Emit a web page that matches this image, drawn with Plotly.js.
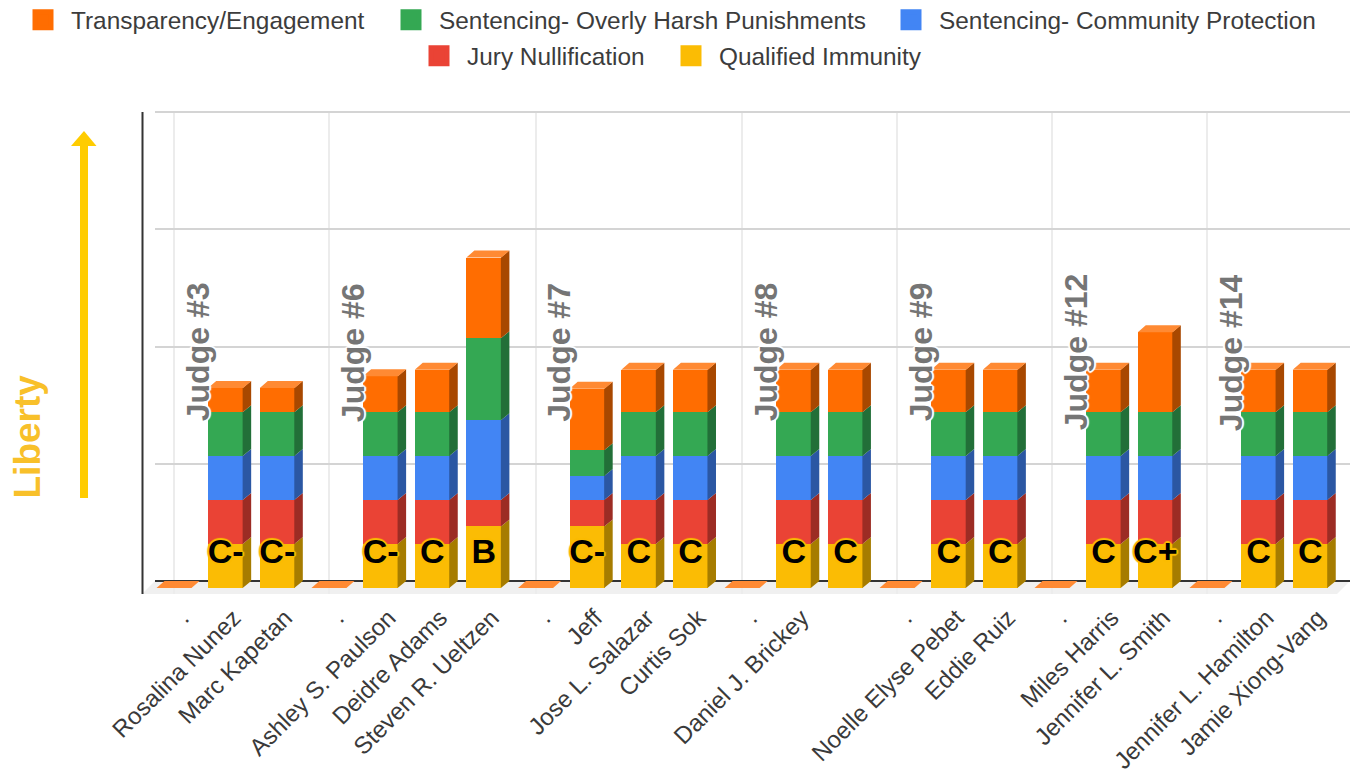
<!DOCTYPE html>
<html>
<head>
<meta charset="utf-8">
<script src="https://cdn.plot.ly/plotly-3.0.1.min.js"></script>
<style>html,body{margin:0;padding:0;background:#fff}#chart{width:1350px;height:774px}</style>
</head>
<body>
<div id="chart"></div>
<script>
const categories = [".","Rosalina Nunez","Marc Kapetan",".","Ashley S. Paulson","Deidre Adams","Steven R. Ueltzen",".","Jeff","Jose L. Salazar","Curtis Sok",".","Daniel J. Brickey"," ",".","Noelle Elyse Pebet","Eddie Ruiz",".","Miles Harris","Jennifer L. Smith",".","Jennifer L. Hamilton","Jamie Xiong-Vang"];
const qualifiedImmunity = [0,3,3,0,3,3,4.2,0,4.2,3,3,0,3,3,0,3,3,0,3,3,0,3,3];
const juryNullification = [0,3,3,0,3,3,1.8,0,1.8,3,3,0,3,3,0,3,3,0,3,3,0,3,3];
const communityProtection = [0,3,3,0,3,3,5.45,0,1.65,3,3,0,3,3,0,3,3,0,3,3,0,3,3];
const overlyHarsh = [0,3,3,0,3,3,5.6,0,1.75,3,3,0,3,3,0,3,3,0,3,3,0,3,3];
const transparency = [0,1.65,1.65,0,2.45,2.9,5.5,0,4.2,2.9,2.9,0,2.9,2.9,0,2.9,2.9,0,2.9,5.45,0,2.9,2.9];
const grades = ["","C-","C-","","C-","C","B","","C-","C","C","","C","C","","C","C","","C","C+","","C","C"];
const judgeLabels = ["Judge #3","Judge #6","Judge #7","Judge #8","Judge #9","Judge #12","Judge #14"];
const judgeSeparators = [0,3,7,11,14,17,20];
const seriesNames = ["Qualified Immunity","Jury Nullification","Sentencing- Community Protection","Sentencing- Overly Harsh Punishments","Transparency/Engagement"];
const seriesValues = [qualifiedImmunity,juryNullification,communityProtection,overlyHarsh,transparency];
const seriesColors = ["#fbbc04","#ea4335","#4285f4","#34a853","#ff6d01"];
const sideColors = ["#a67c00","#9c2c24","#2b57a3","#226f38","#a84800"];
const topColor = "#ff8a33";

const FONT = "Liberation Sans, Arial, sans-serif";
const barWidth = 0.678, depthX = 0.155, depthY = 0.477, seam = 0.01;
const xs = categories.map((_, i) => i);
const L = 155, T = 111, W = 1195, H = 483;
const px = v => (v - L) / W, py = v => (T + H - v) / H;

const traces = [];
seriesValues.forEach((vals, s) => traces.push({
  type: "bar", x: xs, y: vals, width: barWidth, name: seriesNames[s],
  marker: {color: seriesColors[s], line: {width: 0}}, showlegend: false, hoverinfo: "x+y+name"
}));

const base = xs.map(() => 0);
seriesValues.forEach((vals, s) => {
  const X = [], Y = [];
  xs.forEach(i => {
    if (vals[i] <= 0) return;
    const r = i + barWidth / 2, b = base[i], t = b + vals[i];
    X.push(r - seam, r + depthX, r + depthX, r - seam, null);
    Y.push(b, b + depthY, t + depthY, t, null);
    base[i] = t;
  });
  traces.push({type: "scatter", mode: "none", fill: "toself", fillcolor: sideColors[s], x: X, y: Y, showlegend: false, hoverinfo: "skip"});
});
const topX = [], topY = [];
xs.forEach(i => {
  const l = i - barWidth / 2, r = i + barWidth / 2, t = base[i];
  topX.push(l, r, r + depthX, l + depthX, null);
  topY.push(t, t, t + depthY, t + depthY, null);
});
traces.push({type: "scatter", mode: "none", fill: "toself", fillcolor: topColor, x: topX, y: topY, showlegend: false, hoverinfo: "skip"});

const halo = c => [[1,0],[-1,0],[0,1],[0,-1],[1,1],[-1,1],[1,-1],[-1,-1],[2,0],[-2,0],[0,2],[0,-2]].map(o => `${o[0]}px ${o[1]}px 1px ${c}`).join(",");

traces.push({
  type: "scatter", mode: "text", x: xs, y: xs.map(() => 2.3), text: grades, textposition: "middle center",
  textfont: {family: FONT, size: 34, weight: 700, color: "#000000", shadow: halo("#fbbc04")},
  showlegend: false, hoverinfo: "skip"
});
traces.push({type: "scatter", mode: "markers", x: [null], y: [null], xaxis: "x2", yaxis: "y2", showlegend: false, hoverinfo: "skip"});

const legendSpec = [[4, 15, 20, "legend"], [3, 383, 20, "legend2"], [2, 883, 20, "legend3"], [1, 411, 56, "legend4"], [0, 663, 56, "legend5"]];
const layout = {
  width: 1350, height: 774, paper_bgcolor: "#fff", plot_bgcolor: "rgba(0,0,0,0)",
  margin: {l: L, r: 0, t: T, b: 774 - T - H, pad: 0, autoexpand: false},
  barmode: "stack", bargap: 0, font: {family: FONT, color: "#222"},
  hovermode: "closest",
  xaxis: {
    type: "linear", range: [-0.368, 22.77], tickmode: "array", tickvals: xs, ticktext: categories,
    tickangle: -45, ticks: "", showgrid: false, zeroline: false, showline: false,
    tickfont: {family: FONT, size: 24, color: "#3a3a3a"}, ticklabelstandoff: 4, ticklabelshift: 8
  },
  yaxis: {range: [-0.409, 32.55], showgrid: false, zeroline: false, showticklabels: false, ticks: "", showline: false},
  xaxis2: {
    overlaying: "x", anchor: "y2", range: [-0.368, 22.77], tickmode: "array", tickvals: judgeSeparators,
    showticklabels: false, ticks: "", showgrid: true, gridcolor: "#ececec", gridwidth: 1.5, zeroline: false
  },
  yaxis2: {
    overlaying: "y", anchor: "x2", range: [-0.887, 32.07], tick0: 0, dtick: 8, showticklabels: false, ticks: "",
    showgrid: true, gridcolor: "#d4d4d4", gridwidth: 2, zeroline: true, zerolinecolor: "#333", zerolinewidth: 2
  },
  shapes: [
    {type: "path", xref: "paper", yref: "paper", layer: "below", line: {width: 0}, fillcolor: "#f0f0f0",
     path: `M${px(155)},${py(581)}L${px(1350)},${py(581)}L${px(1337)},${py(594)}L${px(142)},${py(594)}Z`},
    {type: "line", xref: "paper", yref: "paper", x0: px(142.5), x1: px(142.5), y0: py(112), y1: py(594), line: {color: "#333", width: 2}},
    {type: "rect", xref: "paper", yref: "paper", x0: px(80), x1: px(88), y0: py(145), y1: py(498), line: {width: 0}, fillcolor: "#ffcc00"},
    {type: "path", xref: "paper", yref: "paper", line: {width: 0}, fillcolor: "#ffcc00",
     path: `M${px(71)},${py(146)}L${px(96.5)},${py(146)}L${px(84)},${py(131)}Z`}
  ],
  annotations: judgeLabels.map((t, i) => ({
    text: t, x: judgeSeparators[i] + 0.465, y: 16.09, xref: "x", yref: "y", showarrow: false, textangle: -90,
    xanchor: "center", yanchor: "middle",
    font: {family: FONT, size: 32, weight: 700, color: "#757575", shadow: halo("#ffffff")}
  })).concat([{
    text: "Liberty", x: px(26.5), y: py(437), xref: "paper", yref: "paper", showarrow: false, textangle: -90,
    xanchor: "center", yanchor: "middle", font: {family: FONT, size: 37, weight: 700, color: "#f8c02a"}
  }])
};
legendSpec.forEach(([s, x, y, key]) => {
  traces.push({
    type: "scatter", mode: "markers", x: [null], y: [null], name: seriesNames[s], legend: key,
    marker: {symbol: "square", size: 16, color: seriesColors[s], line: {color: seriesColors[s], width: 5}},
    hoverinfo: "skip"
  });
  layout[key] = {
    x: px(x), y: py(y), xanchor: "left", yanchor: "middle", orientation: "v", bgcolor: "rgba(0,0,0,0)",
    itemwidth: 46, itemclick: false, itemdoubleclick: false, font: {family: FONT, size: 24.4, color: "#3c3c3c"}
  };
});
Plotly.newPlot("chart", traces, layout, {displayModeBar: false});
</script>
</body>
</html>
